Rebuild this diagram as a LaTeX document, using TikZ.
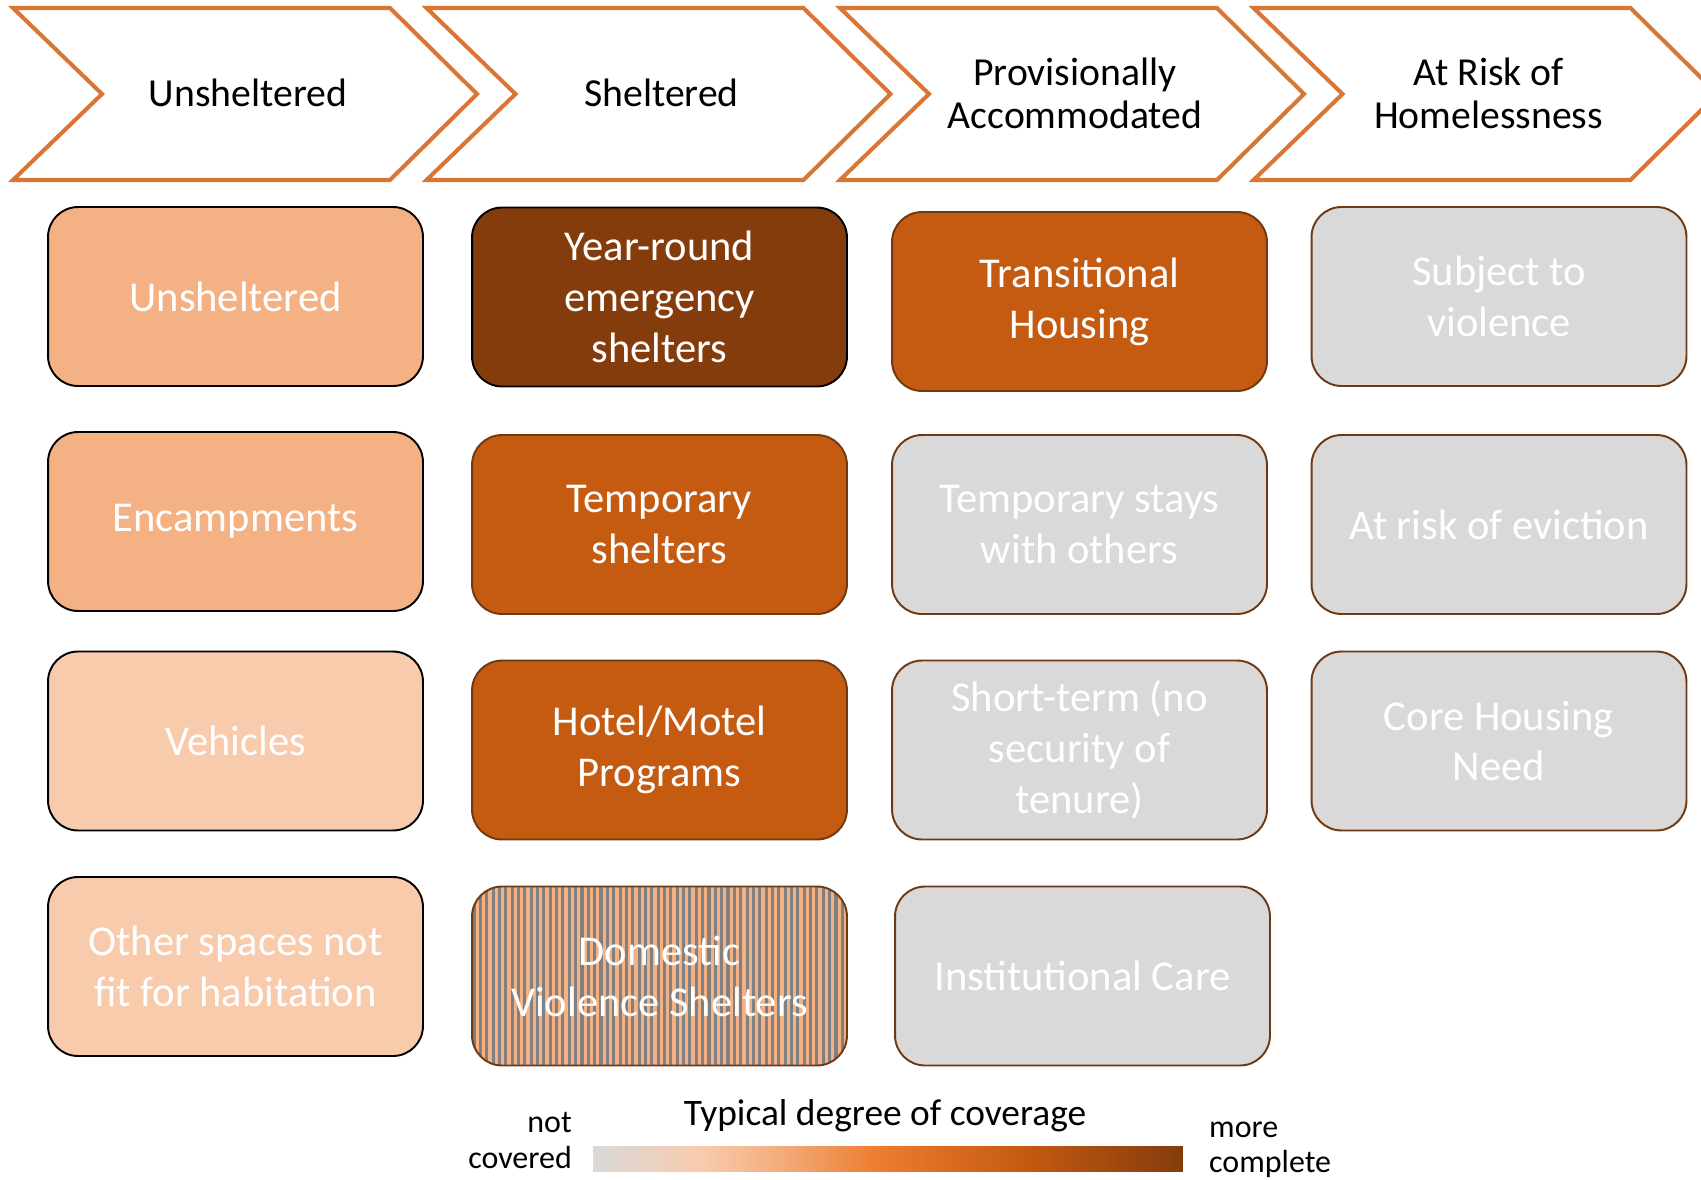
\documentclass[tikz,border=0pt]{standalone}
\usepackage{fontspec}
\setmainfont{Carlito}
\usetikzlibrary{positioning,shapes,calc}
\definecolor{chevorange}{HTML}{DA7634}
\definecolor{peach}{HTML}{F4B183}
\definecolor{paleorange}{HTML}{F8CBAD}
\definecolor{midorange}{HTML}{ED7D31}
\definecolor{rust}{HTML}{C55A11}
\definecolor{darkrust}{HTML}{843C0C}
\definecolor{lightgrey}{HTML}{D9D9D9}
\definecolor{stripegrey}{HTML}{808080}
\definecolor{edgebrown}{HTML}{6E3A14}
\pgfdeclarehorizontalshading{coverage}{100bp}{color(0bp)=(lightgrey); color(25bp)=(lightgrey); color(34bp)=(paleorange); color(40bp)=(peach); color(49bp)=(midorange); color(61.5bp)=(rust); color(75bp)=(darkrust); color(100bp)=(darkrust)}
\tikzset{
  chevron/.style={draw=chevorange, line width=2.3pt, fill=white},
  chevlabel/.style={align=center, font=\fontsize{22.6}{24.5}\selectfont},
  category/.style={rectangle, rounded corners=0.6cm, minimum width=7.5cm, minimum height=3.58cm,
    line width=1.1pt, text=white, align=center, font=\fontsize{24.2}{29}\selectfont},
  legendtitle/.style={font=\fontsize{21.3}{24}\selectfont},
  legendside/.style={font=\fontsize{18.2}{20}\selectfont}
}

\begin{document}
\begin{tikzpicture}[x=0.02cm, y=-0.02cm]
  \useasboundingbox (0,0) rectangle (1701,1180);
  \foreach \name/\lbl [count=\i from 0] in {unsh/Unsheltered, shel/Sheltered,
      prov/{Provisionally\\Accommodated}, risk/{At Risk of\\Homelessness}} {
    \pgfmathsetmacro{\xl}{13+413.5*\i}
    \draw[chevron] (\xl,8) -- ++(377,0) -- ++(87,86) -- ++(-87,86) -- ++(-377,0) -- ++(89,-86) -- cycle;
    \node[chevlabel] (stage-\name) at (\xl+235,93) {\lbl};
  }
  \begin{scope}
    \clip[rounded corners=0.6cm] (472,886.5) rectangle (847,1065.5);
    \fill[peach] (472,886.5) rectangle (847,1065.5);
    \foreach \s in {0,...,60}
      \draw[stripegrey, line width=0.062cm] (474+6.35*\s,886) -- ++(0,180);
  \end{scope}
  \foreach \name/\x/\y/\fillc/\edge/\lbl in {
      unsheltered/235.5/296.5/peach/black/Unsheltered,
      encampments/235.5/521.5/peach/black/Encampments,
      vehicles/235.5/741/paleorange/black/Vehicles,
      otherspaces/235.5/966.5/paleorange/black/{Other spaces not\\fit for habitation},
      yearround/659.5/297/darkrust/black/{Year-round\\emergency\\shelters},
      tempshelters/659.5/524.5/rust/edgebrown/{Temporary\\shelters},
      hotelmotel/659.5/750/rust/edgebrown/{Hotel/Motel\\Programs},
      domviolence/659.5/976/none/edgebrown/{Domestic\\Violence Shelters},
      transitional/1079.5/301.5/rust/edgebrown/{Transitional\\Housing},
      tempstays/1079.5/524.5/lightgrey/edgebrown/{Temporary stays\\with others},
      shortterm/1079.5/750/lightgrey/edgebrown/{Short-term (no\\security of\\tenure)},
      institutional/1082.5/976/lightgrey/edgebrown/{Institutional Care},
      violence/1499/296.5/lightgrey/edgebrown/{Subject to\\violence},
      eviction/1499/524.5/lightgrey/edgebrown/{At risk of eviction},
      corehousing/1499/741/lightgrey/edgebrown/{Core Housing\\Need}} {
    \node[category, fill=\fillc, draw=\edge] (\name) at (\x,\y) {\lbl};
  }
  \node[shading=coverage, minimum width=11.8cm, minimum height=0.5cm, inner sep=0pt] (coverbar) at (888,1158.5) {};
  \node[legendtitle, anchor=base] (covertitle) at (885,1125) {Typical degree of coverage};
  \node[legendside, anchor=base east] (notlbl) at (578,1132) {not};
  \node[legendside, anchor=base east] (coveredlbl) at (578,1168) {covered};
  \node[legendside, anchor=base west] (morelbl) at (1203,1137) {more};
  \node[legendside, anchor=base west] (completelbl) at (1203,1172) {complete};
\end{tikzpicture}
\end{document}
